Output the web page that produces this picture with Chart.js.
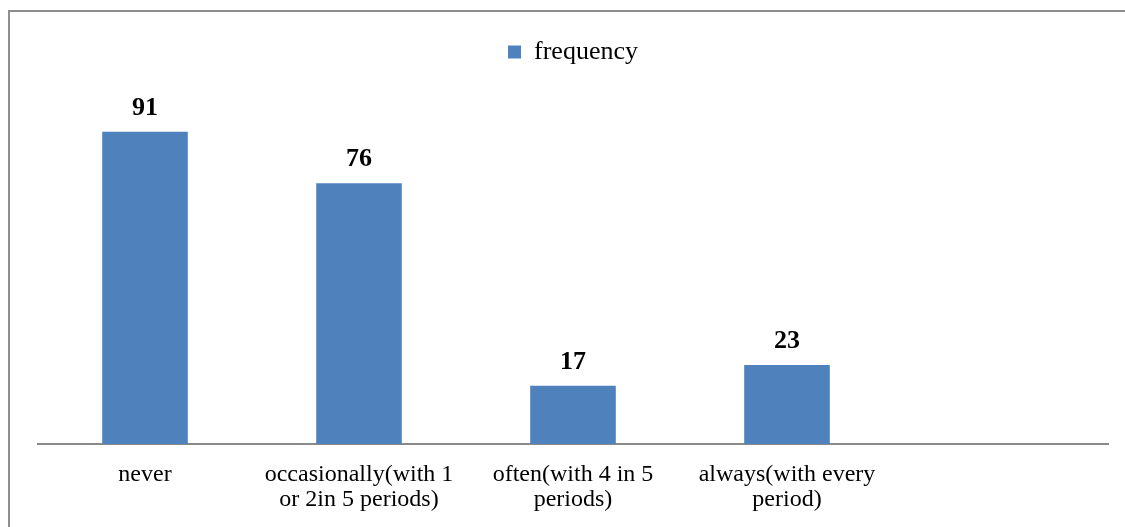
<!DOCTYPE html>
<html>
<head>
<meta charset="utf-8">
<title>frequency</title>
<script src="https://cdn.jsdelivr.net/npm/chart.js@4.4.1/dist/chart.umd.min.js"></script>
<style>
  html, body { margin: 0; padding: 0; background: #ffffff; }
  #wrap { position: relative; width: 1125px; height: 527px; overflow: hidden; background: #ffffff; }
  #frame { position: absolute; left: 8px; top: 10px; width: 1300px; height: 700px;
           border-left: 2px solid #8e8e8e; border-top: 2px solid #8e8e8e; }
  #c { position: absolute; left: 0; top: 0; }
</style>
</head>
<body>
<div id="wrap">
  <div id="frame"></div>
  <canvas id="c" width="1125" height="527"></canvas>
</div>
<script>
// Response categories (multi-line labels are arrays of lines)
const categories = [
  "never",
  ["occasionally(with 1", "or 2in 5 periods)"],
  ["often(with 4 in 5", "periods)"],
  ["always(with every", "period)"],
  ""
];
const seriesName = "frequency";
const frequency = [91, 76, 17, 23, null];

const SERIF = "'Liberation Serif', 'Times New Roman', serif";

// Writes each bar's value above it
const valueLabels = {
  id: "valueLabels",
  afterDatasetsDraw(chart) {
    const ctx = chart.ctx;
    ctx.save();
    ctx.font = "bold 26px " + SERIF;
    ctx.fillStyle = "#000000";
    ctx.textAlign = "center";
    ctx.textBaseline = "alphabetic";
    chart.data.datasets.forEach((ds, di) => {
      chart.getDatasetMeta(di).data.forEach((bar, i) => {
        const v = ds.data[i];
        if (v === null || v === undefined) return;
        ctx.fillText(String(v), bar.x, bar.y - 17);
      });
    });
    ctx.restore();
  }
};

new Chart(document.getElementById("c"), {
  type: "bar",
  data: {
    labels: categories,
    datasets: [{
      label: seriesName,
      data: frequency,
      backgroundColor: "#4f81bd",
      borderWidth: 0,
      categoryPercentage: 1.0,
      barPercentage: 0.4
    }]
  },
  options: {
    responsive: false,
    animation: false,
    layout: { padding: { left: 38, right: 17, top: 29, bottom: 0 } },
    plugins: {
      legend: {
        display: true,
        position: "top",
        labels: {
          boxWidth: 13,
          boxHeight: 13,
          color: "#000000",
          font: { family: SERIF, size: 26 },
          padding: 10
        }
      },
      tooltip: { enabled: false }
    },
    scales: {
      x: {
        offset: true,
        grid: { display: false, drawTicks: false },
        border: { display: true, color: "#8a8a8a", width: 2 },
        ticks: {
          color: "#000000",
          font: { family: SERIF, size: 24, lineHeight: 1.05 },
          padding: 18,
          maxRotation: 0,
          autoSkip: false
        },
        afterFit(scale) { scale.height = 83; }
      },
      y: {
        display: false,
        min: 0,
        max: 107.5
      }
    }
  },
  plugins: [valueLabels]
});
</script>
</body>
</html>
